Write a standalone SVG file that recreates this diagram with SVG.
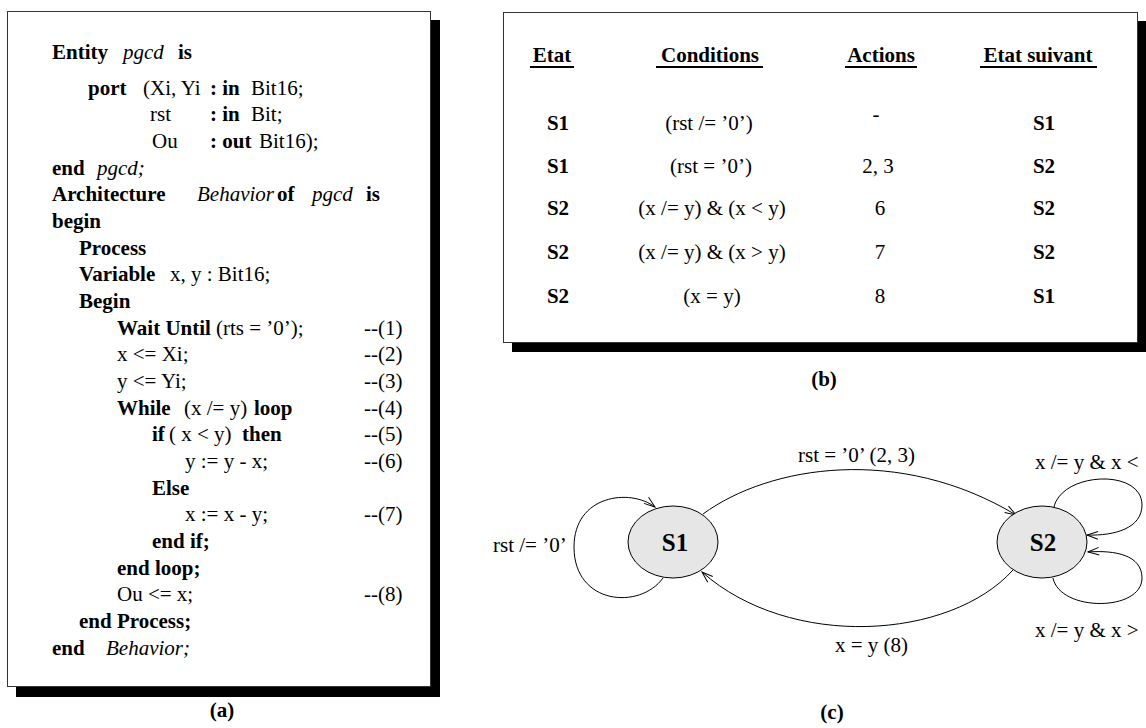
<svg xmlns="http://www.w3.org/2000/svg" width="1146" height="728" viewBox="0 0 1146 728">
<style>
text{font-family:"Liberation Serif","Times New Roman",serif;font-size:21px;fill:#000}
.b{font-weight:bold}
.i{font-style:italic}
.m{text-anchor:middle}
.box{fill:#fff;stroke:#333;stroke-width:1}
.sh{fill:#000}
.ul{stroke:#000;stroke-width:2}
.node{fill:#e6e6e6;stroke:#000;stroke-width:1}
.nl{font-size:25px;font-weight:bold;text-anchor:middle}
.edge{fill:none;stroke:#000;stroke-width:1;marker-end:url(#arr)}
</style>
<defs>
<marker id="arr" markerWidth="14" markerHeight="10" refX="12" refY="5" orient="auto" markerUnits="userSpaceOnUse">
<path d="M1,1.2 L12,5 L1,8.8" fill="none" stroke="#000" stroke-width="1"/>
</marker>
</defs>
<rect x="0" y="0" width="1146" height="728" fill="#fff"/>

<g id="panel-a">
<rect class="sh" x="16" y="20" width="424" height="677"/>
<rect class="box" x="7.5" y="11.5" width="423" height="675"/>
<text y="59"><tspan class="b" x="52">Entity</tspan><tspan class="i" x="123">pgcd</tspan><tspan class="b" x="178">is</tspan></text>
<text y="94.5"><tspan class="b" x="88">port</tspan><tspan x="143">(Xi, Yi</tspan><tspan class="b" x="210">: in</tspan><tspan x="251">Bit16;</tspan></text>
<text y="121.2"><tspan x="150">rst</tspan><tspan class="b" x="210">: in</tspan><tspan x="251">Bit;</tspan></text>
<text y="147.9"><tspan x="152">Ou</tspan><tspan class="b" x="210">: out</tspan><tspan x="259">Bit16);</tspan></text>
<text y="174.5"><tspan class="b" x="52">end</tspan><tspan class="i" x="97">pgcd;</tspan></text>
<text y="201.2"><tspan class="b" x="52">Architecture</tspan><tspan class="i" x="197">Behavior</tspan><tspan class="b" x="277">of</tspan><tspan class="i" x="312">pgcd</tspan><tspan class="b" x="366">is</tspan></text>
<text y="227.9" class="b" x="52">begin</text>
<text y="254.6" class="b" x="79">Process</text>
<text y="281.3"><tspan class="b" x="79">Variable</tspan><tspan x="170">x, y : Bit16;</tspan></text>
<text y="307.9" class="b" x="79">Begin</text>
<text y="334.6"><tspan class="b" x="117">Wait Until</tspan><tspan x="216">(rts = ’0’);</tspan><tspan x="364">--(1)</tspan></text>
<text y="361.3"><tspan x="117">x &lt;= Xi;</tspan><tspan x="364">--(2)</tspan></text>
<text y="388"><tspan x="117">y &lt;= Yi;</tspan><tspan x="364">--(3)</tspan></text>
<text y="414.7"><tspan class="b" x="117">While</tspan><tspan x="184">(x /= y)</tspan><tspan class="b" x="254">loop</tspan><tspan x="364">--(4)</tspan></text>
<text y="441.3"><tspan class="b" x="152">if</tspan><tspan x="169">( x &lt; y)</tspan><tspan class="b" x="242">then</tspan><tspan x="364">--(5)</tspan></text>
<text y="468"><tspan x="185">y := y - x;</tspan><tspan x="364">--(6)</tspan></text>
<text y="494.7" class="b" x="152">Else</text>
<text y="521.4"><tspan x="185">x := x - y;</tspan><tspan x="364">--(7)</tspan></text>
<text y="548.1" class="b" x="152">end if;</text>
<text y="574.7" class="b" x="117">end loop;</text>
<text y="601.4"><tspan x="117">Ou &lt;= x;</tspan><tspan x="364">--(8)</tspan></text>
<text y="628.1" class="b" x="79">end Process;</text>
<text y="654.8"><tspan class="b" x="52">end</tspan><tspan class="i" x="106">Behavior;</tspan></text>
<text class="b m" x="222" y="717">(a)</text>
</g>

<g id="panel-b">
<rect class="sh" x="512" y="21" width="640" height="331"/>
<rect class="box" x="503.5" y="12.5" width="634" height="330"/>
<g id="header">
<text class="b m" x="552" y="62">Etat</text>
<text class="b m" x="710" y="62">Conditions</text>
<text class="b m" x="881" y="62">Actions</text>
<text class="b m" x="1038" y="62">Etat suivant</text>
<line class="ul" x1="530" y1="67" x2="574" y2="67"/>
<line class="ul" x1="656" y1="67" x2="763" y2="67"/>
<line class="ul" x1="845" y1="67" x2="917" y2="67"/>
<line class="ul" x1="980" y1="67" x2="1097" y2="67"/>
</g>
<g id="row1">
<text class="b m" x="558" y="130">S1</text>
<text class="m" x="709" y="130">(rst /= ’0’)</text>
<text class="m" x="876" y="121">-</text>
<text class="b m" x="1044" y="130">S1</text>
</g>
<g id="row2">
<text class="b m" x="558" y="173">S1</text>
<text class="m" x="711" y="173">(rst = ’0’)</text>
<text class="m" x="878" y="173">2, 3</text>
<text class="b m" x="1044" y="173">S2</text>
</g>
<g id="row3">
<text class="b m" x="558" y="215">S2</text>
<text class="m" x="712" y="215">(x /= y) &amp; (x &lt; y)</text>
<text class="m" x="880" y="215">6</text>
<text class="b m" x="1044" y="215">S2</text>
</g>
<g id="row4">
<text class="b m" x="558" y="259">S2</text>
<text class="m" x="712" y="259">(x /= y) &amp; (x &gt; y)</text>
<text class="m" x="880" y="259">7</text>
<text class="b m" x="1044" y="259">S2</text>
</g>
<g id="row5">
<text class="b m" x="558" y="303">S2</text>
<text class="m" x="712" y="303">(x = y)</text>
<text class="m" x="880" y="303">8</text>
<text class="b m" x="1044" y="303">S1</text>
</g>
<text class="b m" x="824" y="386">(b)</text>
</g>

<g id="panel-c">
<g id="connectors">
<path class="edge" d="M663,578 C640,610 574,605 574,547 C574,495 630,488 655,507"/>
<path class="edge" d="M703,514 C770,465 900,445 1016,515"/>
<path class="edge" d="M1013,570 C950,640 790,650 702,572"/>
<path class="edge" d="M1054,507 C1062,472 1142,468 1142,505 C1142,528 1115,536 1087,535"/>
<path class="edge" d="M1053,578 C1060,612 1142,612 1142,578 C1142,555 1115,550 1088,552"/>
<text x="493" y="552">rst /= ’0’</text>
<text x="798" y="462">rst = ’0’ (2, 3)</text>
<text x="835" y="652">x = y (8)</text>
<text x="1035" y="469">x /= y &amp; x &lt;</text>
<text x="1035" y="637">x /= y &amp; x &gt;</text>
</g>
<g id="S1">
<ellipse class="node" cx="673" cy="542" rx="45" ry="36"/>
<text class="nl" x="675" y="551">S1</text>
</g>
<g id="S2">
<ellipse class="node" cx="1042" cy="542" rx="45" ry="36"/>
<text class="nl" x="1043" y="551">S2</text>
</g>
<text class="b m" x="832" y="719">(c)</text>
</g>
</svg>
